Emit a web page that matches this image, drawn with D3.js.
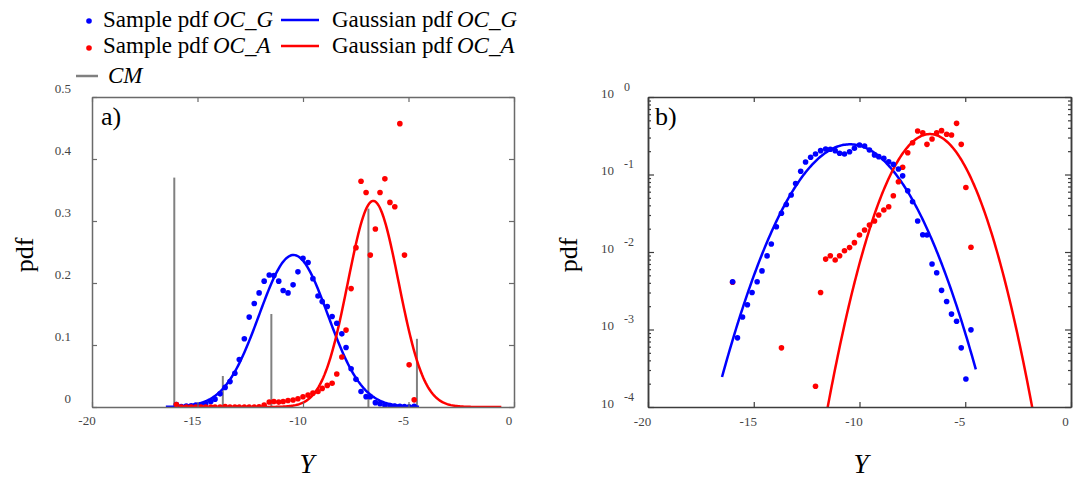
<!DOCTYPE html>
<html>
<head>
<meta charset="utf-8">
<script src="https://cdn.jsdelivr.net/npm/d3@7"></script>
<style>
  body { margin: 0; background: #fff; }
  svg text { font-family: "Liberation Serif", "DejaVu Serif", serif; }
</style>
</head>
<body>
<div id="chart"></div>
<script>
// bins of Y (centres)
const binY = [-16.0, -15.77, -15.53, -15.30, -15.08, -14.84, -14.61, -14.37, -14.17, -13.93,
  -13.69, -13.46, -13.23, -13.02, -12.78, -12.55, -12.31, -12.08, -11.84, -11.60,
  -11.38, -11.15, -10.94, -10.71, -10.47, -10.24, -10.0, -9.76, -9.53, -9.29,
  -9.09, -8.85, -8.62, -8.40, -8.16, -7.96, -7.72, -7.49, -7.25, -7.01,
  -6.81, -6.57, -6.35, -6.12, -5.88, -5.65, -5.41, -5.19, -4.97, -4.73];

// sample pdf OC_G
const pdfG = [4.14e-3, 7.8e-4, 1.45e-3, 2.09e-3, 3.0e-3, 4.14e-3, 5.7e-3, 8.9e-3, 0.0127, 0.0212,
  0.0316, 0.041, 0.0544, 0.0765, 0.11, 0.145, 0.167, 0.184, 0.203, 0.213,
  0.212, 0.203, 0.188, 0.184, 0.197, 0.218, 0.240, 0.233, 0.207, 0.179,
  0.170, 0.162, 0.146, 0.135, 0.118, 0.096, 0.0618, 0.0446, 0.0251, 0.0167,
  0.0166, 7.0e-3, 5.4e-3, 3.2e-3, 2.3e-3, 1.58e-3, 1.28e-3, 5.8e-4, 2.3e-4, 9.9e-4];

// sample pdf OC_A
const pdfA = [4.07e-3, 0, 0, 0, 0, 0, 0, 0, 0, 0,
  5.8e-4, 0, 0, 0, 0, 0, 0, 1.85e-4, 3.0e-3, 8.1e-3,
  8.96e-3, 7.9e-3, 8.96e-3, 0.0104, 0.0114, 0.0132, 0.0166, 0.0192, 0.0223, 0.0251,
  0.030, 0.0348, 0.0384, 0.0533, 0.0807, 0.124, 0.191, 0.257, 0.364, 0.346,
  0.245, 0.287, 0.346, 0.368, 0.33, 0.323, 0.457, 0.245, 0.068, 0.0115];

// CM bars (panel a)
const cmY = [-16.1, -13.8, -11.5, -6.9, -4.6];
const cmH = [0.37, 0.05, 0.15, 0.32, 0.11];

// fitted gaussians: mean, sigma, drawn range
const gaussMean = [-10.45, -6.67];
const gaussSigma = [1.627, 1.2];
const gaussFrom = [-16.5, -12.0];
const gaussTo = [-4.5, -0.6];

// ticks
const xTicks = [-20, -15, -10, -5, 0];
const yTicksA = [0, 0.1, 0.2, 0.3, 0.4, 0.5];
const yTicksB = [1e-4, 1e-3, 1e-2, 1e-1, 1];

const width = 1073, height = 481;
const svg = d3.select("#chart").append("svg")
  .attr("width", width).attr("height", height);

const blue = "#0000ff", red = "#ff0000", gray = "#808080";

function gaussPts(k) {
  const pts = [];
  const n = 200;
  for (let i = 0; i <= n; i++) {
    const x = gaussFrom[k] + (gaussTo[k] - gaussFrom[k]) * i / n;
    const z = (x - gaussMean[k]) / gaussSigma[k];
    pts.push([x, Math.exp(-0.5 * z * z) / (gaussSigma[k] * Math.sqrt(2 * Math.PI))]);
  }
  return pts;
}

const sampleG = binY.map((x, i) => ({ x: x, y: pdfG[i] }));
const sampleA = binY.map((x, i) => ({ x: x, y: pdfA[i] }));

// ---------- panel a (linear) ----------
const xa = d3.scaleLinear().domain([-20, 0]).range([92, 514]);
const ya = d3.scaleLinear().domain([0, 0.5]).range([407, 97]);
const axA = "#6a6a6a";

const ga = svg.append("g");
ga.append("clipPath").attr("id", "clipA").append("rect")
  .attr("x", 92).attr("y", 97).attr("width", 422).attr("height", 310);
const pa = ga.append("g").attr("clip-path", "url(#clipA)");

pa.selectAll(".cm").data(cmY).enter().append("line")
  .attr("x1", d => xa(d)).attr("x2", d => xa(d))
  .attr("y1", ya(0)).attr("y2", (d, i) => ya(cmH[i]))
  .attr("stroke", gray).attr("stroke-width", 2);

const lineA = d3.line().x(d => xa(d[0])).y(d => ya(d[1]));
pa.append("path").attr("d", lineA(gaussPts(0)))
  .attr("fill", "none").attr("stroke", blue).attr("stroke-width", 2.5);
pa.append("path").attr("d", lineA(gaussPts(1)))
  .attr("fill", "none").attr("stroke", red).attr("stroke-width", 2.5);

pa.selectAll(".dg").data(sampleG).enter().append("circle")
  .attr("cx", d => xa(d.x)).attr("cy", d => ya(d.y)).attr("r", 2.8).attr("fill", blue);
pa.selectAll(".da").data(sampleA).enter().append("circle")
  .attr("cx", d => xa(d.x)).attr("cy", d => ya(d.y)).attr("r", 2.8).attr("fill", red);

function styleAxis(g, col) {
  g.select(".domain").attr("stroke", col).attr("stroke-width", 1.5);
  g.selectAll(".tick line").attr("stroke", col).attr("stroke-width", 1.2);
  g.selectAll(".tick text").attr("fill", "#444").style("font-size", "13px")
    .style("font-family", "'Liberation Serif', serif");
}

let g;
g = ga.append("g").attr("transform", "translate(0,407)")
  .call(d3.axisBottom(xa).tickValues(xTicks).tickSize(-5).tickSizeOuter(0).tickFormat(d => String(d)));
styleAxis(g, axA);
g.selectAll(".tick text").attr("dy", null).attr("y", 18).attr("dx", -5.5);

g = ga.append("g").attr("transform", "translate(0,97)")
  .call(d3.axisTop(xa).tickValues(xTicks).tickSize(-5).tickSizeOuter(0).tickFormat(""));
styleAxis(g, axA);

g = ga.append("g").attr("transform", "translate(92,0)")
  .call(d3.axisLeft(ya).tickValues(yTicksA).tickSize(-5).tickSizeOuter(0).tickFormat(d => String(d)));
styleAxis(g, axA);
g.selectAll(".tick text").attr("dy", null).attr("x", -21).attr("y", -4.5);

g = ga.append("g").attr("transform", "translate(514,0)")
  .call(d3.axisRight(ya).tickValues(yTicksA).tickSize(-5).tickSizeOuter(0).tickFormat(""));
styleAxis(g, axA);

ga.append("text").attr("x", 101).attr("y", 125).style("font-size", "26px").text("a)");
ga.append("text").attr("x", 307).attr("y", 473).attr("text-anchor", "middle")
  .style("font-size", "27px").style("font-style", "italic").text("Y");
ga.append("text").attr("transform", "translate(33,255) rotate(-90)").attr("text-anchor", "middle")
  .style("font-size", "26px").text("pdf");

// ---------- panel b (log) ----------
const xb = d3.scaleLinear().domain([-20, 0]).range([648, 1071]);
const yb = d3.scaleLog().domain([1e-4, 1]).range([407, 97]);
const axB = "#3c3c3c";

const gb = svg.append("g");
gb.append("clipPath").attr("id", "clipB").append("rect")
  .attr("x", 648).attr("y", 97).attr("width", 423).attr("height", 310);
const pb = gb.append("g").attr("clip-path", "url(#clipB)");

const lineB = d3.line().x(d => xb(d[0])).y(d => yb(Math.max(d[1], 1e-6)));
pb.append("path").attr("d", lineB(gaussPts(0)))
  .attr("fill", "none").attr("stroke", blue).attr("stroke-width", 2.5);
pb.append("path").attr("d", lineB(gaussPts(1)))
  .attr("fill", "none").attr("stroke", red).attr("stroke-width", 2.5);

pb.selectAll(".da").data(sampleA.filter(d => d.y > 0)).enter().append("circle")
  .attr("cx", d => xb(d.x)).attr("cy", d => yb(d.y)).attr("r", 2.8).attr("fill", red);
pb.selectAll(".dg").data(sampleG.filter(d => d.y > 0)).enter().append("circle")
  .attr("cx", d => xb(d.x)).attr("cy", d => yb(d.y)).attr("r", 2.8).attr("fill", blue);

g = gb.append("g").attr("transform", "translate(0,407)")
  .call(d3.axisBottom(xb).tickValues(xTicks).tickSize(-5).tickSizeOuter(0).tickFormat(d => String(d)));
styleAxis(g, axB);
g.selectAll(".tick text").attr("dy", null).attr("y", 19).attr("dx", -6);

g = gb.append("g").attr("transform", "translate(0,97)")
  .call(d3.axisTop(xb).tickValues(xTicks).tickSize(-5).tickSizeOuter(0).tickFormat(""));
styleAxis(g, axB);

// minor log ticks left and right
const minor = yb.ticks().filter(v => yTicksB.indexOf(v) < 0);
g = gb.append("g").attr("transform", "translate(648,0)")
  .call(d3.axisLeft(yb).tickValues(minor).tickSize(-3).tickSizeOuter(0).tickFormat(""));
styleAxis(g, axB);
g = gb.append("g").attr("transform", "translate(1071,0)")
  .call(d3.axisRight(yb).tickValues(minor).tickSize(-3).tickSizeOuter(0).tickFormat(""));
styleAxis(g, axB);

g = gb.append("g").attr("transform", "translate(648,0)")
  .call(d3.axisLeft(yb).tickValues(yTicksB).tickSize(-6).tickSizeOuter(0).tickFormat(""));
styleAxis(g, axB);
g.selectAll(".tick").each(function (d) {
  const t = d3.select(this);
  t.append("text").attr("x", -34).attr("y", 0).attr("text-anchor", "end")
    .attr("fill", "#444").style("font-size", "13px").text("10");
  t.append("text").attr("x", -24).attr("y", -7).attr("text-anchor", "start")
    .attr("fill", "#444").style("font-size", "12px").text(String(Math.round(Math.log10(d))));
});
g = gb.append("g").attr("transform", "translate(1071,0)")
  .call(d3.axisRight(yb).tickValues(yTicksB).tickSize(-6).tickSizeOuter(0).tickFormat(""));
styleAxis(g, axB);

gb.append("text").attr("x", 655).attr("y", 125).style("font-size", "26px").text("b)");
gb.append("text").attr("x", 861).attr("y", 473).attr("text-anchor", "middle")
  .style("font-size", "27px").style("font-style", "italic").text("Y");
gb.append("text").attr("transform", "translate(577,255) rotate(-90)").attr("text-anchor", "middle")
  .style("font-size", "26px").text("pdf");

// ---------- legend ----------
const leg = svg.append("g").style("font-size", "23px");
function legText(x, xi, y, plain, ital) {
  leg.append("text").attr("x", x).attr("y", y).text(plain);
  leg.append("text").attr("x", xi).attr("y", y).style("font-style", "italic").text(ital);
}
leg.append("circle").attr("cx", 89).attr("cy", 21).attr("r", 2.8).attr("fill", blue);
legText(103, 213, 27, "Sample pdf", "OC_G");
leg.append("line").attr("x1", 281).attr("x2", 319).attr("y1", 20).attr("y2", 20)
  .attr("stroke", blue).attr("stroke-width", 2.5);
legText(332, 457, 27, "Gaussian pdf", "OC_G");

leg.append("circle").attr("cx", 89).attr("cy", 48).attr("r", 2.8).attr("fill", red);
legText(103, 213, 53, "Sample pdf", "OC_A");
leg.append("line").attr("x1", 281).attr("x2", 319).attr("y1", 46).attr("y2", 46)
  .attr("stroke", red).attr("stroke-width", 2.5);
legText(332, 457, 53, "Gaussian pdf", "OC_A");

leg.append("line").attr("x1", 76).attr("x2", 98).attr("y1", 76).attr("y2", 76)
  .attr("stroke", gray).attr("stroke-width", 2.5);
legText(108, 108, 83, "", "CM");
</script>
</body>
</html>
